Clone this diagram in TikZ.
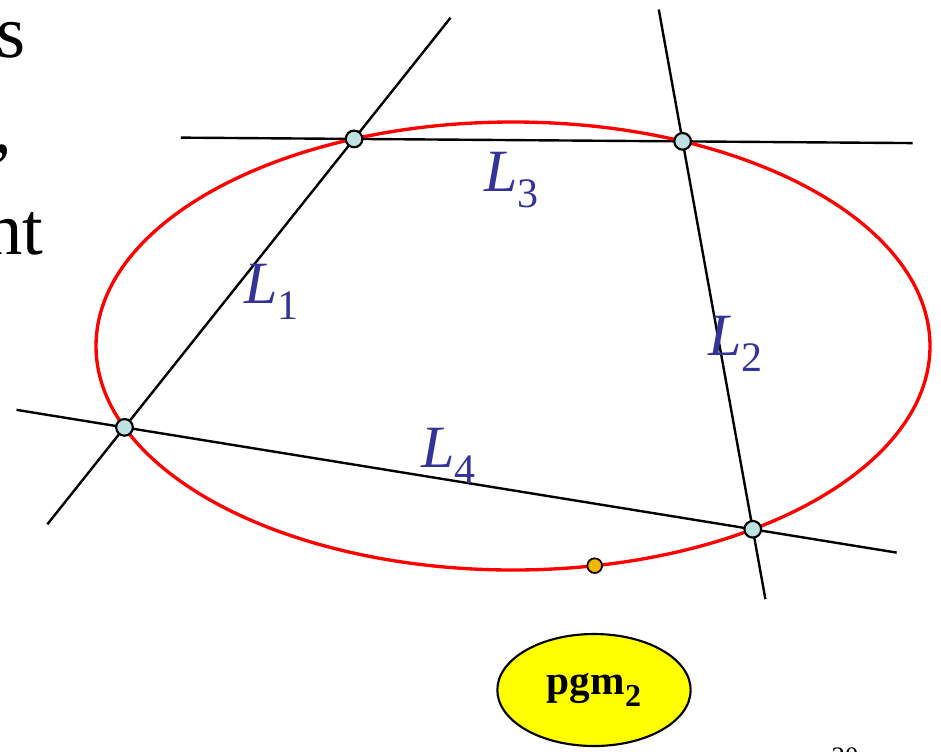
\documentclass[tikz,border=0pt]{standalone}
\usepackage{fontspec}
\setmainfont{Liberation Serif}
\usetikzlibrary{calc,shapes.geometric}
\definecolor{ConicRed}{RGB}{255,0,0}
\definecolor{LineLabel}{RGB}{51,51,153}
\definecolor{PointFill}{RGB}{190,226,226}
\definecolor{ExtraFill}{RGB}{247,183,0}
\definecolor{PgmFill}{RGB}{255,255,0}

\begin{document}
\begin{tikzpicture}[x=0.75pt, y=-0.75pt,
    gridline/.style={draw=black, line width=1.8pt},
    conicline/.style={draw=ConicRed, line width=2.5pt},
    conicpt/.style={circle, draw=black, fill=PointFill, line width=1.6pt, inner sep=0pt, minimum size=12.5pt},
    extrapt/.style={circle, draw=black, fill=ExtraFill, line width=1.3pt, inner sep=0pt, minimum size=11pt},
    linelabel/.style={text=LineLabel, inner sep=0pt, font=\fontsize{45}{45}\selectfont},
    slidetext/.style={inner sep=0pt, font=\fontsize{56}{56}\selectfont}]
          \useasboundingbox (0,0) rectangle (941,751);
          \clip (0,0) rectangle (941,751);
          % conic and the five points on it
          \coordinate (c) at (513,346);
          \coordinate (q1) at ($(c)+(247.6:417 and 224)$);
          \coordinate (q2) at ($(c)+(294.0:417 and 224)$);
          \coordinate (q3) at ($(c)+(158.7:417 and 224)$);
          \coordinate (q4) at ($(c)+(54.9:417 and 224)$);
          \coordinate (q5) at ($(c)+(78.7:417 and 224)$);
          % the four lines
          \draw[gridline] ($(q3)!-0.336!(q1)$) -- ($(q1)!-0.42!(q3)$);
          \draw[gridline] ($(q2)!-0.34!(q4)$) -- ($(q4)!-0.18!(q2)$);
          \draw[gridline] ($(q1)!-0.527!(q2)$) -- ($(q2)!-0.70!(q1)$);
          \draw[gridline] ($(q3)!-0.172!(q4)$) -- ($(q4)!-0.229!(q3)$);
          \draw[conicline] (c) ellipse [x radius=417, y radius=224];
          \node[conicpt] (p1) at (q1) {};
          \node[conicpt] (p2) at (q2) {};
          \node[conicpt] (p3) at (q3) {};
          \node[conicpt] (p4) at (q4) {};
          \node[extrapt] (p5) at (q5) {};
          % labels
          \node[linelabel] (l1) at (272,292) {\itshape L\textsubscript{\upshape 1}};
          \node[linelabel] (l2) at (736,344) {\itshape L\textsubscript{\upshape 2}};
          \node[linelabel] (l3) at (512,180) {\itshape L\textsubscript{\upshape 3}};
          \node[linelabel] (l4) at (449,456) {\itshape L\textsubscript{\upshape 4}};
          \node[ellipse, draw=black, fill=PgmFill, line width=1.6pt, minimum width=145pt, minimum height=84pt, inner sep=0pt, font=\fontsize{31}{31}\selectfont\bfseries] (pgm) at (594,690) {pgm\raisebox{-0.3em}{\fontsize{24}{24}\selectfont 2}};
          % cut-off slide text
          \node[slidetext, anchor=base east] (txt1) at (26,57) {s};
          \node[slidetext, anchor=base east] (txt2) at (12,152) {,};
          \node[slidetext, anchor=base east] (txt3) at (44,254) {nt};
          \node[anchor=north, inner sep=0pt, font=\fontsize{20}{20}\selectfont] (pageno) at (845,747) {20};
        \end{tikzpicture}
\end{document}
